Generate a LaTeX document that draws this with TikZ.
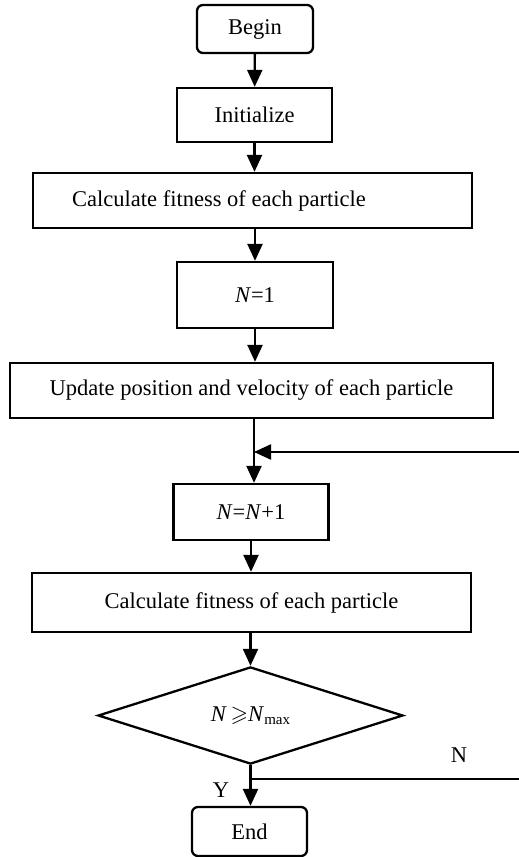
\documentclass[tikz,border=0pt]{standalone}
\usepackage{fontspec}
\usepackage{amssymb}
\setmainfont{Liberation Serif}
\usetikzlibrary{shapes.geometric,arrows.meta}
\begin{document}
\begin{tikzpicture}[x=1pt,y=1pt,
  font=\fontsize{22.5}{27}\selectfont,
  every node/.style={inner sep=0pt},
  procbox/.style={draw, rectangle, line width=2.3pt},
  termbox/.style={draw, rectangle, rounded corners=6pt, line width=2.3pt},
  decbox/.style={draw, diamond, line width=2.3pt},
  flow/.style={line width=2.3pt, -{Triangle[length=17pt,width=15pt]}},
  plainline/.style={line width=2.3pt}
]
\useasboundingbox (0,0) rectangle (519,-857);

\node[termbox, minimum width=116pt, minimum height=48pt] (begin) at (255,-29) {Begin};
\node[procbox, minimum width=155pt, minimum height=54pt] (init) at (254.5,-115) {Initialize};
\node[procbox, minimum width=439pt, minimum height=55pt] (calc1) at (252.5,-200.5) {};
\node[anchor=west] (calc1txt) at (72,-200.5) {Calculate fitness of each particle};
\node[procbox, minimum width=156pt, minimum height=66pt] (n1) at (255,-295) {\textit{N}=1};
\node[procbox, minimum width=483pt, minimum height=55pt] (upd) at (251.5,-390.5) {Update position and velocity of each particle};
\coordinate (j1) at (254,-452);
\coordinate (loopin) at (519,-452);
\node[procbox, minimum width=155pt, minimum height=56pt] (nn1) at (251,-512) {\textit{N}=\textit{N}+1};
\node[procbox, minimum width=439pt, minimum height=59pt] (calc2) at (251.5,-602.5) {Calculate fitness of each particle};
\node[decbox, minimum width=305pt, minimum height=97pt] (dec) at (250.5,-715.5) {\textit{N}\,$\geqslant$\textit{N}\raisebox{-0.3ex}{\fontsize{15}{15}\selectfont max}};
\coordinate (j2) at (250.5,-779);
\coordinate (loopout) at (519,-779);
\node[termbox, minimum width=115pt, minimum height=49pt] (end) at (249.5,-831.5) {End};

\node (lblN) at (459,-755.5) {N};
\node (lblY) at (221,-790) {Y};

\draw[flow] (begin) -- (init);
\draw[flow] (init.south) -- (init.south |- calc1.north);
\draw[flow] (calc1.south -| n1.north) -- (n1.north);
\draw[flow] (n1) -- (upd.north -| n1.south);
\draw[plainline] (upd.south -| j1) -- (j1);
\draw[flow] (j1) -- (j1 |- nn1.north);
\draw[flow] (loopin) -- (j1);
\draw[flow] (nn1.south) -- (nn1.south |- calc2.north);
\draw[flow] (calc2.south -| dec.north) -- (dec.north);
\draw[flow] (dec.south) -- (dec.south |- end.north);
\draw[plainline] (j2) -- (loopout);
\end{tikzpicture}
\end{document}
